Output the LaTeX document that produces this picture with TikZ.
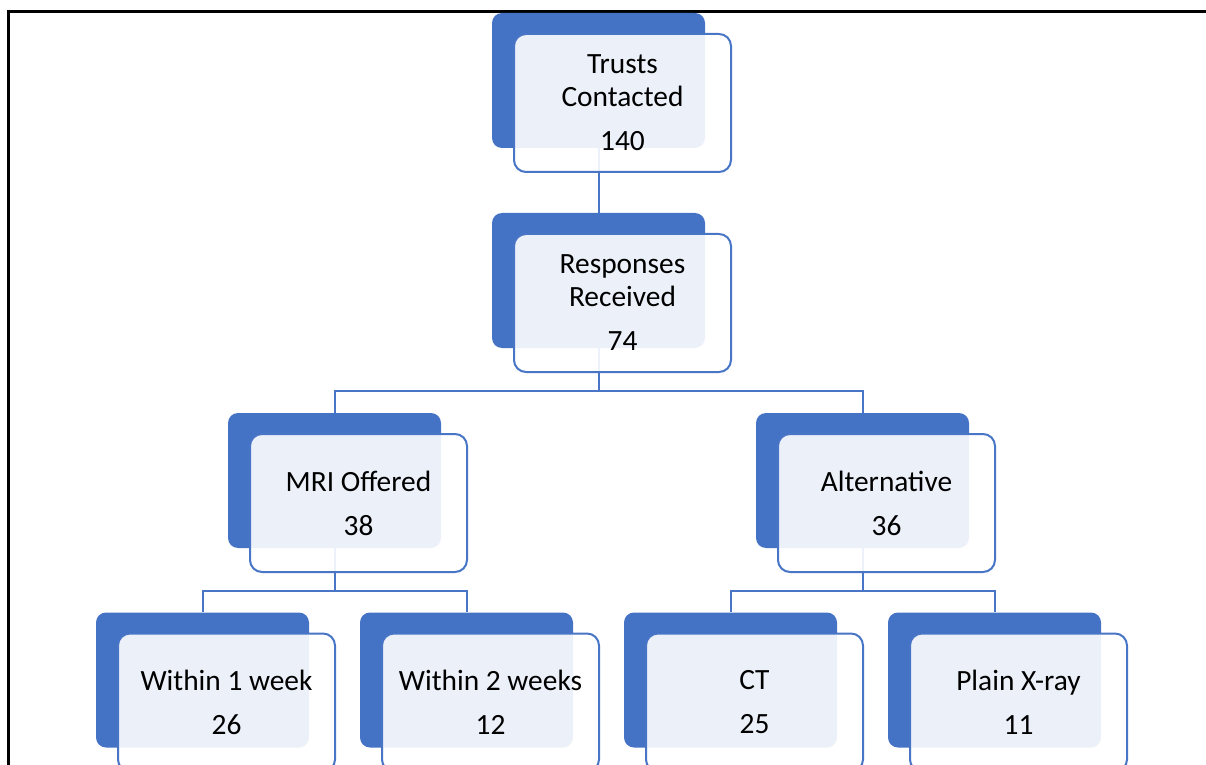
\documentclass[tikz,border=0pt]{standalone}
\usepackage{fontspec}
\setmainfont{Carlito}
\definecolor{cDark}{RGB}{68,114,196}
\definecolor{cLine}{RGB}{72,117,198}

\tikzset{
    darkbox/.style={rectangle, rounded corners=5pt, fill=cDark, minimum width=106.5pt, minimum height=67.5pt, inner sep=0pt},
    lightbox/.style={rectangle, rounded corners=6pt, draw=cLine, line width=1pt, fill=white, fill opacity=0.9, text opacity=1, minimum width=108.5pt, minimum height=69pt, inner sep=0pt, align=center, font=\fontsize{14.7}{16.5}\selectfont},
    link/.style={draw=cLine, line width=1pt},
}

\begin{document}
\begin{tikzpicture}[x=0.5pt, y=-0.5pt]
        \useasboundingbox (0,0) rectangle (1206,765);
        \clip (0,0) rectangle (1206,765);
        \draw[line width=1.5pt] (8.5,780) |- (1220,12);

        % back boxes
        \node[darkbox] (trustsB) at (598.5, 80.5) {};
        \node[darkbox] (respB) at (598.5, 280.5) {};
        \node[darkbox] (mriB) at (334.5, 480.5) {};
        \node[darkbox] (altB) at (862.5, 480.5) {};
        \node[darkbox] (wk1B) at (202.5, 680) {};
        \node[darkbox] (wk2B) at (466.5, 680) {};
        \node[darkbox] (ctB) at (730.5, 680) {};
        \node[darkbox] (xrayB) at (994.5, 680) {};

        % connectors
        \coordinate (splitA) at (598.5, 391);
        \coordinate (splitB) at (334.5, 591);
        \coordinate (splitC) at (862.5, 591);
        \draw[link] (trustsB.south) -- (respB.north);
        \draw[link] (respB.south) -- (splitA) -| (mriB.north);
        \draw[link] (splitA) -| (altB.north);
        \draw[link] (mriB.south) -- (splitB) -| (wk1B.north);
        \draw[link] (splitB) -| (wk2B.north);
        \draw[link] (altB.south) -- (splitC) -| (ctB.north);
        \draw[link] (splitC) -| (xrayB.north);

        % front boxes
        \node[lightbox] (trusts) at (622.5, 103) {Trusts\\Contacted\\[5.5pt]140};
        \node[lightbox] (resp) at (622.5, 303) {Responses\\Received\\[5.5pt]74};
        \node[lightbox] (mri) at (358.5, 503) {MRI Offered\\[5.5pt]38};
        \node[lightbox] (alt) at (886.5, 503) {Alternative\\[5.5pt]36};
        \node[lightbox] (wk1) at (226.5, 702.5) {Within 1 week\\[5.5pt]26};
        \node[lightbox] (wk2) at (490.5, 702.5) {Within 2 weeks\\[5.5pt]12};
        \node[lightbox] (ct) at (754.5, 702.5) {CT\\[5.5pt]25};
        \node[lightbox] (xray) at (1018.5, 702.5) {Plain X-ray\\[5.5pt]11};
\end{tikzpicture}
\end{document}
